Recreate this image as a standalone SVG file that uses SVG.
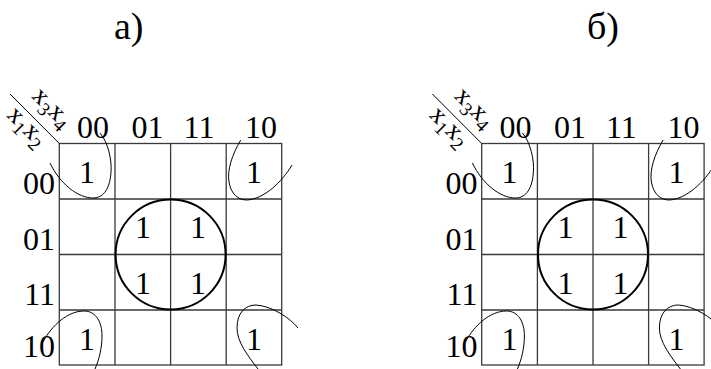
<svg xmlns="http://www.w3.org/2000/svg" width="711" height="369" viewBox="0 0 711 369">
<style>
text{font-family:'Liberation Serif',serif;fill:#000}
.t{font-size:38px}
.d{font-size:32px}
.c{text-anchor:middle}
.r{text-anchor:end}
.v{font-size:26px}
.s{font-size:19px}
.g{fill:none;stroke:#3a3a3a;stroke-width:1.3}
.o{fill:none;stroke:#000;stroke-width:2}
.l{fill:none;stroke:#000;stroke-width:1}
</style>
<g id="title-a" font-family="Liberation Serif"><text class="t" x="114" y="39">а)</text></g>
<g id="title-b" font-family="Liberation Serif"><text class="t" x="587" y="39">б)</text></g>
<g id="map-a" font-family="Liberation Serif">
<rect class="g" x="59.3" y="143.5" width="222.4" height="221.5"/>
<path class="g" d="M115,143.5V365M170.6,143.5V365M226.2,143.5V365M59.3,199H281.7M59.3,254.5H281.7M59.3,310H281.7"/>
<line class="l" x1="10" y1="94" x2="59.3" y2="143.5"/>
<text class="v" transform="translate(31,97) rotate(45)">x<tspan class="s" dy="6">3</tspan><tspan dy="-6">x</tspan><tspan class="s" dy="6">4</tspan></text>
<text class="v" transform="translate(6,116) rotate(45)">x<tspan class="s" dy="6">1</tspan><tspan dy="-6">x</tspan><tspan class="s" dy="6">2</tspan></text>
<text class="d c" x="93" y="138">00</text>
<text class="d c" x="147.5" y="138">01</text>
<text class="d c" x="199" y="138">11</text>
<text class="d c" x="261" y="138">10</text>
<text class="d r" x="55" y="194">00</text>
<text class="d r" x="55" y="250">01</text>
<text class="d r" x="55" y="305">11</text>
<text class="d r" x="55" y="357">10</text>
<text class="d c" x="87" y="183">1</text>
<text class="d c" x="254" y="183">1</text>
<text class="d c" x="143" y="238">1</text>
<text class="d c" x="198" y="238">1</text>
<text class="d c" x="143" y="294">1</text>
<text class="d c" x="198" y="294">1</text>
<text class="d c" x="87" y="350">1</text>
<text class="d c" x="254" y="350">1</text>
<circle class="o" cx="170.6" cy="254.5" r="55"/>
<path class="l" d="M100,133C108,142 112,160 111,172C110,188 104,198 93,198C78,198 60,184 50,163"/>
<path class="l" d="M240.7,140C232,155 227,170 229,182C231,194 238,200 247,200C264,199 282,182 292,165"/>
<path class="l" d="M43,342C52,325 68,311 84,311C96,311 102,322 102,336C102,348 99,360 95,369"/>
<path class="l" d="M258,369C248,356 237,342 237,328C237,313 245,305 256,305C272,306 290,318 298,328"/>
</g>
<g id="map-b" font-family="Liberation Serif" transform="translate(422.4,0)">
<rect class="g" x="59.3" y="143.5" width="222.4" height="221.5"/>
<path class="g" d="M115,143.5V365M170.6,143.5V365M226.2,143.5V365M59.3,199H281.7M59.3,254.5H281.7M59.3,310H281.7"/>
<line class="l" x1="10" y1="94" x2="59.3" y2="143.5"/>
<text class="v" transform="translate(31,97) rotate(45)">x<tspan class="s" dy="6">3</tspan><tspan dy="-6">x</tspan><tspan class="s" dy="6">4</tspan></text>
<text class="v" transform="translate(6,116) rotate(45)">x<tspan class="s" dy="6">1</tspan><tspan dy="-6">x</tspan><tspan class="s" dy="6">2</tspan></text>
<text class="d c" x="93" y="138">00</text>
<text class="d c" x="147.5" y="138">01</text>
<text class="d c" x="199" y="138">11</text>
<text class="d c" x="261" y="138">10</text>
<text class="d r" x="55" y="194">00</text>
<text class="d r" x="55" y="250">01</text>
<text class="d r" x="55" y="305">11</text>
<text class="d r" x="55" y="357">10</text>
<text class="d c" x="87" y="183">1</text>
<text class="d c" x="254" y="183">1</text>
<text class="d c" x="143" y="238">1</text>
<text class="d c" x="198" y="238">1</text>
<text class="d c" x="143" y="294">1</text>
<text class="d c" x="198" y="294">1</text>
<text class="d c" x="87" y="350">1</text>
<text class="d c" x="254" y="350">1</text>
<circle class="o" cx="170.6" cy="254.5" r="55"/>
<path class="l" d="M100,133C108,142 112,160 111,172C110,188 104,198 93,198C78,198 60,184 50,163"/>
<path class="l" d="M240.7,140C232,155 227,170 229,182C231,194 238,200 247,200C264,199 282,182 292,165"/>
<path class="l" d="M43,342C52,325 68,311 84,311C96,311 102,322 102,336C102,348 99,360 95,369"/>
<path class="l" d="M258,369C248,356 237,342 237,328C237,313 245,305 256,305C272,306 290,318 298,328"/>
</g>
</svg>
